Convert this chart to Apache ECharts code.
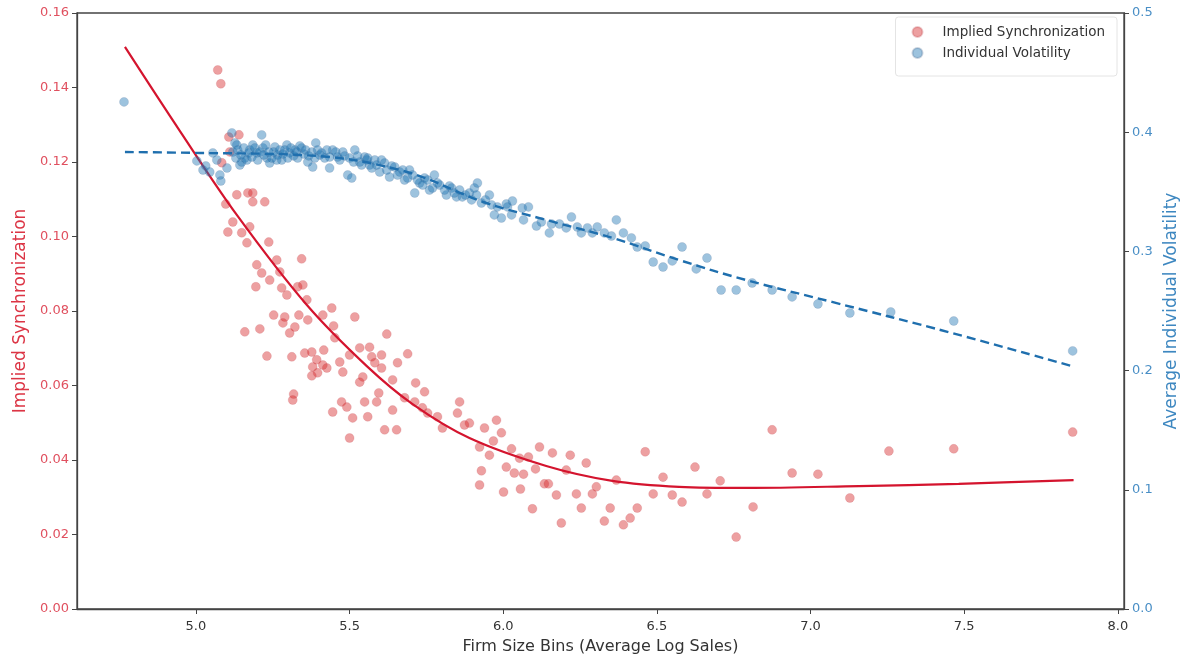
<!DOCTYPE html>
<html>
<head>
<meta charset="utf-8">
<script src="https://cdn.jsdelivr.net/npm/echarts@6/dist/echarts.min.js"></script>
<style>html,body{margin:0;padding:0;background:#fff;}#chart{width:1183px;height:660px;}</style>
</head>
<body>
<div id="chart"></div>
<script>
// Tick labels
const xTicks = [5.0, 5.5, 6.0, 6.5, 7.0, 7.5, 8.0];

// Implied Synchronization scatter [log sales, sync]
const syncPoints = [
[5.071,0.1447],[5.081,0.1410],[5.107,0.1267],[5.140,0.1273],[5.110,0.1227],[5.084,0.1198],
[5.133,0.1112],[5.169,0.1117],[5.185,0.1117],[5.185,0.1093],[5.224,0.1093],[5.097,0.1087],
[5.120,0.1039],[5.175,0.1026],[5.104,0.1012],[5.149,0.1010],[5.166,0.0983],[5.237,0.0985],
[5.198,0.0924],[5.263,0.0937],[5.344,0.0940],[5.214,0.0902],[5.240,0.0883],[5.273,0.0905],
[5.195,0.0865],[5.279,0.0862],[5.296,0.0843],[5.331,0.0865],[5.348,0.0870],[5.361,0.0830],
[5.253,0.0789],[5.289,0.0784],[5.322,0.0757],[5.283,0.0768],[5.305,0.0741],[5.159,0.0744],
[5.208,0.0752],[5.335,0.0789],[5.413,0.0789],[5.442,0.0808],[5.448,0.0760],[5.517,0.0784],
[5.452,0.0728],[5.364,0.0776],[5.231,0.0679],[5.312,0.0677],[5.354,0.0687],[5.377,0.0690],
[5.393,0.0669],[5.380,0.0650],[5.413,0.0655],[5.377,0.0626],[5.396,0.0634],[5.426,0.0647],
[5.416,0.0695],[5.468,0.0663],[5.478,0.0636],[5.500,0.0682],[5.533,0.0701],[5.565,0.0703],
[5.572,0.0677],[5.604,0.0682],[5.621,0.0738],[5.582,0.0661],[5.543,0.0623],[5.533,0.0609],
[5.604,0.0647],[5.656,0.0661],[5.689,0.0685],[5.640,0.0615],[5.715,0.0607],[5.744,0.0583],
[5.595,0.0580],[5.588,0.0556],[5.549,0.0556],[5.474,0.0556],[5.491,0.0542],[5.445,0.0529],
[5.318,0.0577],[5.315,0.0561],[5.510,0.0513],[5.559,0.0516],[5.640,0.0534],[5.679,0.0567],
[5.712,0.0556],[5.737,0.0540],[5.754,0.0526],[5.786,0.0516],[5.802,0.0486],[5.858,0.0556],
[5.851,0.0526],[5.890,0.0499],[5.939,0.0486],[5.978,0.0507],[5.994,0.0473],[5.874,0.0494],
[5.614,0.0481],[5.653,0.0481],[5.500,0.0459],[5.968,0.0451],[5.923,0.0435],[5.955,0.0413],
[5.929,0.0371],[6.027,0.0430],[6.010,0.0381],[6.036,0.0365],[6.066,0.0362],[6.053,0.0405],
[6.082,0.0408],[6.105,0.0376],[6.118,0.0435],[6.160,0.0419],[6.218,0.0413],[6.205,0.0373],
[6.270,0.0392],[6.134,0.0336],[6.147,0.0336],[6.001,0.0314],[6.056,0.0322],[6.173,0.0306],
[6.238,0.0309],[6.290,0.0309],[6.303,0.0328],[6.368,0.0346],[6.095,0.0269],[6.254,0.0271],
[6.348,0.0271],[6.436,0.0271],[6.413,0.0244],[6.391,0.0226],[6.329,0.0236],[6.189,0.0231],
[5.923,0.0333],[6.462,0.0422],[6.520,0.0354],[6.488,0.0309],[6.550,0.0306],[6.582,0.0287],
[6.624,0.0381],[6.663,0.0309],[6.706,0.0344],[6.758,0.0193],[6.813,0.0274],[6.875,0.0481],
[6.940,0.0365],[7.024,0.0362],[7.128,0.0298],[7.255,0.0424],[7.466,0.0430],[7.853,0.0475]
];

// Fitted synchronization curve
const syncFit = [
[4.769,0.1509],[4.948,0.1283],[5.133,0.1058],[5.361,0.0816],[5.556,0.0652],[5.705,0.0550],
[5.890,0.0459],[6.140,0.0384],[6.355,0.0344],[6.572,0.0328],[6.790,0.0325],[7.157,0.0330],
[7.482,0.0336],[7.856,0.0346]
];

// Individual Volatility scatter [log sales, volatility]
const volPoints = [
[4.766,0.4254],[5.003,0.3759],[5.023,0.3683],[5.032,0.3717],[5.045,0.3666],[5.055,0.3826],
[5.068,0.3767],[5.078,0.3641],[5.081,0.3591],[5.101,0.3700],[5.117,0.3994],[5.127,0.3910],
[5.133,0.3893],[5.136,0.3851],[5.143,0.3725],[5.149,0.3750],[5.159,0.3784],[5.175,0.3851],
[5.185,0.3893],[5.198,0.3826],[5.214,0.3977],[5.218,0.3868],[5.231,0.3784],[5.240,0.3742],
[5.257,0.3876],[5.266,0.3809],[5.279,0.3767],[5.296,0.3893],[5.305,0.3826],[5.322,0.3851],
[5.331,0.3784],[5.344,0.3868],[5.364,0.3750],[5.380,0.3708],[5.390,0.3910],[5.403,0.3809],
[5.419,0.3784],[5.435,0.3700],[5.445,0.3851],[5.461,0.3792],[5.478,0.3834],[5.494,0.3641],
[5.507,0.3616],[5.517,0.3851],[5.533,0.3750],[5.549,0.3792],[5.556,0.3767],[5.565,0.3725],
[5.582,0.3767],[5.598,0.3666],[5.614,0.3742],[5.630,0.3624],[5.647,0.3708],[5.663,0.3666],
[5.679,0.3599],[5.695,0.3683],[5.712,0.3490],[5.728,0.3574],[5.744,0.3616],[5.760,0.3515],
[5.776,0.3641],[5.793,0.3557],[5.815,0.3473],[5.832,0.3532],[5.848,0.3457],[5.867,0.3457],
[5.890,0.3490],[5.906,0.3532],[5.916,0.3574],[5.929,0.3406],[5.955,0.3473],[5.971,0.3306],
[5.994,0.3280],[6.014,0.3373],[6.010,0.3398],[6.030,0.3423],[6.027,0.3306],[6.062,0.3364],
[6.066,0.3264],[6.082,0.3373],[6.108,0.3213],[6.124,0.3247],[6.150,0.3155],[6.157,0.3230],
[6.183,0.3230],[6.205,0.3197],[6.222,0.3289],[6.241,0.3205],[6.254,0.3155],[6.274,0.3197],
[6.290,0.3155],[6.306,0.3205],[6.329,0.3155],[6.352,0.3129],[6.368,0.3264],[6.391,0.3155],
[6.417,0.3113],[6.436,0.3037],[6.462,0.3046],[6.488,0.2911],[6.520,0.2869],[6.550,0.2920],
[6.582,0.3037],[6.628,0.2853],[6.663,0.2945],[6.709,0.2676],[6.758,0.2676],[6.810,0.2735],
[6.875,0.2676],[6.940,0.2618],[7.024,0.2559],[7.128,0.2483],[7.261,0.2492],[7.466,0.2416],
[7.853,0.2165],
[5.120,0.3834],[5.130,0.3784],[5.146,0.3809],[5.156,0.3868],[5.166,0.3767],[5.172,0.3826],
[5.182,0.3792],[5.192,0.3868],[5.201,0.3767],[5.208,0.3834],[5.221,0.3809],[5.227,0.3893],
[5.237,0.3834],[5.247,0.3784],[5.253,0.3834],[5.263,0.3767],[5.273,0.3851],[5.283,0.3817],
[5.289,0.3851],[5.299,0.3784],[5.309,0.3868],[5.318,0.3801],[5.328,0.3834],[5.338,0.3885],
[5.351,0.3817],[5.357,0.3851],[5.367,0.3801],[5.377,0.3834],[5.387,0.3784],[5.396,0.3851],
[5.409,0.3826],[5.426,0.3851],[5.435,0.3792],[5.455,0.3834],[5.468,0.3767],[5.484,0.3801],
[5.500,0.3784],[5.513,0.3750],[5.526,0.3801],[5.539,0.3725],[5.559,0.3784],[5.572,0.3700],
[5.588,0.3725],[5.604,0.3767],[5.621,0.3683],[5.637,0.3717],[5.656,0.3641],[5.673,0.3683],
[5.689,0.3616],[5.705,0.3641],[5.721,0.3599],[5.738,0.3557],[5.754,0.3599],[5.770,0.3532],
[5.786,0.3574],[5.809,0.3515],[5.825,0.3549],[5.841,0.3490],[5.858,0.3515],[5.877,0.3473],
[5.897,0.3432],[5.913,0.3473],[5.942,0.3432],[5.962,0.3390],[5.981,0.3373]
];

// Fitted volatility curve
const volFit = [
[4.769,0.3834],[5.013,0.3826],[5.338,0.3809],[5.663,0.3683],[5.945,0.3406],[6.140,0.3264],
[6.355,0.3113],[6.572,0.2928],[6.790,0.2760],[7.070,0.2576],[7.459,0.2316],[7.849,0.2039]
];

const FONT = 'DejaVu Sans';

const chart = echarts.init(document.getElementById('chart'), null, {renderer: 'canvas'});
chart.setOption({
  animation: false,
  backgroundColor: '#ffffff',
  textStyle: {fontFamily: FONT},
  grid: {left: 77, right: 59, top: 13, bottom: 51, containLabel: false, outerBoundsMode: 'none',
         show: true, borderColor: '#444', borderWidth: 1.3, backgroundColor: 'transparent'},
  legend: {
    orient: 'vertical', right: 66, top: 17, itemGap: 7, itemWidth: 10, itemHeight: 10,
    padding: [8, 12, 16, 16], backgroundColor: 'rgba(255,255,255,0.85)', borderColor: '#e4e4e4', borderWidth: 1, borderRadius: 3,
    textStyle: {fontFamily: FONT, fontSize: 13.5, color: '#333', padding: [0, 0, 0, 15]},
    data: [{name: 'Implied Synchronization', icon: 'circle'}, {name: 'Individual Volatility', icon: 'circle'}]
  },
  xAxis: {
    type: 'value', min: 4.613, max: 8.02,
    name: 'Firm Size Bins (Average Log Sales)', nameLocation: 'middle', nameGap: 30,
    nameTextStyle: {fontFamily: FONT, fontSize: 16, color: '#333'},
    axisLine: {show: true, lineStyle: {color: '#444', width: 1.3}},
    axisTick: {show: true, length: 5, customValues: xTicks, lineStyle: {color: '#444'}},
    axisLabel: {customValues: xTicks, formatter: v => v.toFixed(1), fontSize: 13, color: '#333', margin: 11},
    splitLine: {show: false}
  },
  yAxis: [{
    type: 'value', min: 0, max: 0.16, interval: 0.02, position: 'left',
    name: 'Implied Synchronization', nameLocation: 'middle', nameGap: 47,
    nameTextStyle: {fontFamily: FONT, fontSize: 17, color: '#dc3545'},
    axisLine: {show: true, lineStyle: {color: '#444', width: 1.3}},
    axisTick: {show: true, length: 5, lineStyle: {color: '#444'}},
    axisLabel: {formatter: v => v.toFixed(2), fontSize: 13, color: '#e0505f', margin: 8},
    splitLine: {show: false}
  }, {
    type: 'value', min: 0, max: 0.5, interval: 0.1, position: 'right',
    name: 'Average Individual Volatility', nameLocation: 'middle', nameGap: 33, nameRotate: 90,
    nameTextStyle: {fontFamily: FONT, fontSize: 17, color: '#3d87c0'},
    axisLine: {show: true, lineStyle: {color: '#444', width: 1.3}},
    axisTick: {show: true, length: 5, lineStyle: {color: '#444'}},
    axisLabel: {formatter: v => v.toFixed(1), fontSize: 13, color: '#4a8fc6', margin: 8},
    splitLine: {show: false}
  }],
  series: [{
    name: 'Implied Synchronization', type: 'scatter', yAxisIndex: 0, data: syncPoints,
    symbolSize: 9, itemStyle: {color: 'rgba(214,39,40,0.55)', borderColor: 'rgba(190,60,70,0.35)', borderWidth: 0.6}, z: 2
  }, {
    name: 'Sync fit', type: 'line', yAxisIndex: 0, data: syncFit, smooth: 0.35, showSymbol: false,
    lineStyle: {color: '#d4142e', width: 2.2}, z: 3
  }, {
    name: 'Individual Volatility', type: 'scatter', yAxisIndex: 1, data: volPoints,
    symbolSize: 9, itemStyle: {color: 'rgba(31,119,180,0.55)', borderColor: 'rgba(70,100,140,0.35)', borderWidth: 0.6}, z: 4
  }, {
    name: 'Vol fit', type: 'line', yAxisIndex: 1, data: volFit, smooth: 0.4, showSymbol: false,
    lineStyle: {color: '#1f6fae', width: 2.4, type: [9, 5]}, z: 5
  }]
});
</script>
</body>
</html>
